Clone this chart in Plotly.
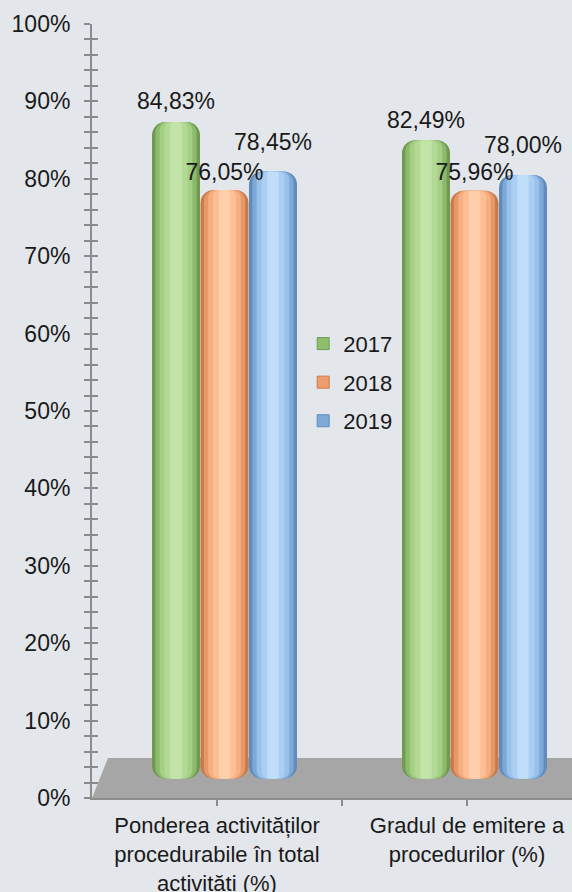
import plotly.graph_objects as go

# ---- data ----
categories = [
    "Ponderea activităților<br>procedurabile în total<br>activități (%)",
    "Gradul de emitere a<br>procedurilor (%)",
]
years = ["2017", "2018", "2019"]
values_2017 = [84.83, 82.49]
values_2018 = [76.05, 75.96]
values_2019 = [78.45, 78.00]
y_ticks = [0, 10, 20, 30, 40, 50, 60, 70, 80, 90, 100]

series = [values_2017, values_2018, values_2019]

# ---- style ----
FONT = "Liberation Sans, Arial, sans-serif"
BG = "#e3e6ea"
legend_col = ["#8fbd6e", "#ee9d6c", "#7fa9d6"]
shades = [
    ["#6f9a50", "#8dbb6c", "#a4cf85", "#b3da95", "#c3e4a9"],
    ["#c97a4a", "#e69866", "#f5af80", "#fdbe93", "#ffcfac"],
    ["#5f8cbc", "#7ea8d6", "#99c1ea", "#aacff3", "#c0ddf9"],
]
fracs = [1.0, 0.86, 0.68, 0.48, 0.24]
BAR_W = 0.192
offsets = [-0.26, -0.066, 0.128]
label_pad = [0.6, 0.3, 1.8]   # extra gap of the value label above each series (axis %)
FLOOR = 2.5  # visual depth of the 3D floor (in axis %)
RADIUS = 13

x_pos = list(range(len(categories)))
base_vals = [FLOOR] * len(categories)

fig = go.Figure()

for i, (yr, vals) in enumerate(zip(years, series)):
    for frac, col in zip(fracs, shades[i]):
        w = BAR_W * frac
        off = offsets[i] + (BAR_W - w) / 2
        fig.add_trace(go.Bar(
            x=x_pos, y=vals, base=base_vals,
            width=[w] * len(x_pos), offset=[off] * len(x_pos),
            marker=dict(color=col, line=dict(width=0),
                        cornerradius=max(2, RADIUS * frac)),
            showlegend=False, hoverinfo="skip",
        ))

# label traces drawn last so that texts are on top
for i, (yr, vals) in enumerate(zip(years, series)):
    fig.add_trace(go.Bar(
        x=x_pos, y=vals, base=[FLOOR + label_pad[i]] * len(x_pos),
        width=[BAR_W] * len(x_pos), offset=[offsets[i]] * len(x_pos),
        marker=dict(color="rgba(0,0,0,0)", line=dict(width=0)),
        texttemplate="%{y:.2f}%", textposition="outside",
        textfont=dict(family=FONT, size=23, color="#1a1a1a"),
        cliponaxis=False, constraintext="none",
        showlegend=False, hoverinfo="skip",
    ))

# legend entries (square swatches)
for i, yr in enumerate(years):
    fig.add_trace(go.Bar(
        x=[None], y=[None], name=yr, legendgroup=yr,
        marker=dict(color=legend_col[i], line=dict(width=1, color=shades[i][0])),
        showlegend=True, hoverinfo="skip",
    ))

# invisible helper so the crossing-tick overlay axis is drawn
fig.add_trace(go.Scatter(x=[0], y=[0], yaxis="y2", mode="markers",
                         marker=dict(opacity=0), showlegend=False, hoverinfo="skip"))

tickvals_x = []
ticktext_x = []
for i, c in enumerate(categories):
    tickvals_x.append(i)
    ticktext_x.append(c)
    if i < len(categories) - 1:
        tickvals_x.append(i + 0.5)
        ticktext_x.append("")

y_ticktext = [f"{v}%" for v in y_ticks]

fig.update_layout(
    width=572, height=892,
    margin=dict(l=92, r=0, t=24, b=94, autoexpand=False),
    paper_bgcolor=BG, plot_bgcolor=BG,
    barmode="overlay",
    separators=",.",
    font=dict(family=FONT, size=23, color="#1a1a1a"),
    showlegend=True,
    legend=dict(x=0.44, y=0.614, xanchor="left", yanchor="top",
                bgcolor="rgba(0,0,0,0)", font=dict(size=22, color="#1a1a1a"),
                tracegroupgap=7, traceorder="grouped", itemwidth=30),
    xaxis=dict(range=[-0.5, 1.42], tickvals=tickvals_x, ticktext=ticktext_x,
               ticks="outside", ticklen=6, tickcolor="#8a8a8a", tickwidth=1.5,
               showline=True, linecolor="#8c8c8c", linewidth=2, automargin=False,
               showgrid=False, zeroline=False, ticklabelstandoff=1,
               tickfont=dict(size=22)),
    yaxis=dict(range=[0, 100], tickmode="array", tickvals=y_ticks, ticktext=y_ticktext,
               ticks="outside", ticklen=6, tickcolor="#8a8a8a", tickwidth=1.5,
               showline=True, linecolor="#8c8c8c", linewidth=2, automargin=False,
               showgrid=False, zeroline=False, ticklabelstandoff=9,
               minor=dict(dtick=2, ticks="outside", ticklen=6,
                          tickcolor="#8a8a8a", tickwidth=1.5, showgrid=False),
               tickfont=dict(size=23)),
    yaxis2=dict(range=[0, 100], overlaying="y", side="left", anchor="x",
                tickmode="array", tickvals=y_ticks, showticklabels=False,
                ticks="inside", ticklen=6, tickcolor="#8a8a8a", tickwidth=1.5,
                showline=False, showgrid=False, zeroline=False, automargin=False,
                minor=dict(dtick=2, ticks="inside", ticklen=6,
                           tickcolor="#8a8a8a", tickwidth=1.5, showgrid=False)),
    shapes=[dict(type="path", xref="paper", yref="y",
                 path="M 0,0 L 0.0333,5.17 L 1,5.17 L 1,0 Z",
                 fillcolor="#a6a6a6", line=dict(width=0), layer="below")],
)

fig.write_html("out.html")
